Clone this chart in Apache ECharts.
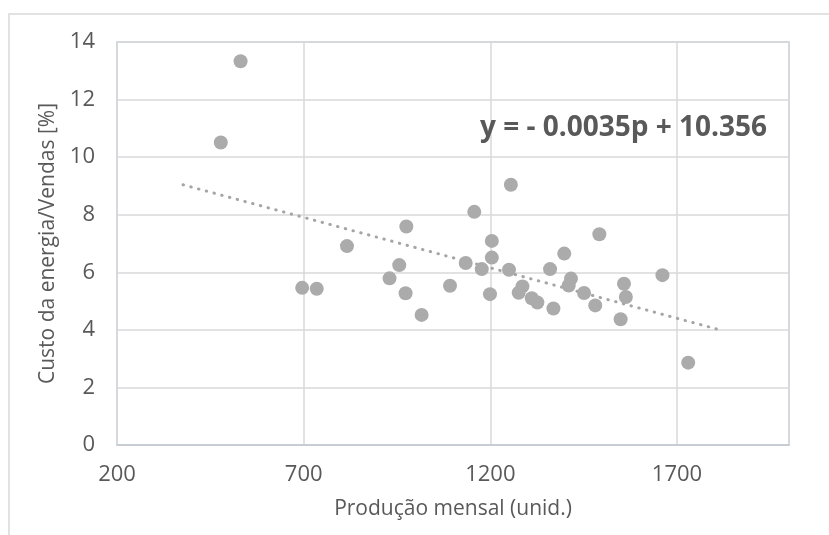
<!DOCTYPE html>
<html>
<head>
<meta charset="utf-8">
<script src="https://cdn.jsdelivr.net/npm/echarts@6/dist/echarts.min.js"></script>
<style>
  html, body { margin: 0; padding: 0; background: #fff; }
  #main { width: 829px; height: 535px; }
</style>
</head>
<body>
<div id="main"></div>
<script>
// produção mensal (unid.) e custo energia/vendas (%)
var producao = [531, 478, 975, 816, 956, 1255, 1157, 1204, 1204, 1134, 1177, 1250,
  1360, 930, 696, 735, 973, 1016, 1092, 1199, 1286, 1276, 1311, 1326, 1369,
  1398, 1492, 1416, 1410, 1451, 1481, 1558, 1563, 1549, 1661, 1730];
var custo = [13.33, 10.51, 7.59, 6.91, 6.25, 9.04, 8.10, 7.09, 6.51, 6.32, 6.11, 6.09,
  6.11, 5.79, 5.46, 5.43, 5.27, 4.52, 5.53, 5.24, 5.51, 5.29, 5.10, 4.95, 4.74,
  6.65, 7.32, 5.78, 5.54, 5.28, 4.85, 5.60, 5.14, 4.37, 5.90, 2.86];

// linha de tendência (extremos)
var trendX = [377, 1812];
var trendY = [9.04, 4.01];
var equacao = 'y = - 0.0035p + 10.356';

var xMin = 200, xMax = 2000, xStep = 500;
var yTicks = [0, 2, 4, 6, 8, 10, 12, 14];

// eixo x deslocado para que os ticks comecem em 200
var pts = producao.map(function (p, i) { return [p - xMin, custo[i]]; });
var trend = trendX.map(function (p, i) { return [p - xMin, trendY[i]]; });

var txt = '#595959';
var font = '"Open Sans", sans-serif';

var chart = echarts.init(document.getElementById('main'));
chart.setOption({
  animation: false,
  grid: {
    left: 117, right: 40, top: 42, bottom: 90,
    show: true, borderColor: '#b8cbe6', borderWidth: 1.5
  },
  xAxis: {
    type: 'value', min: 0, max: xMax - xMin, interval: xStep,
    name: 'Produção mensal (unid.)', nameLocation: 'middle', nameGap: 54,
    nameTextStyle: { color: txt, fontSize: 21, fontFamily: font },
    axisLine: { show: true, lineStyle: { color: '#c3c7d0', width: 1.5 } },
    axisTick: { show: false },
    axisLabel: {
      color: txt, fontSize: 22, fontFamily: font, margin: 19,
      formatter: function (v) { return v >= xMax - xMin ? '' : String(v + xMin); }
    },
    splitLine: { show: true, lineStyle: { color: '#d9d9d9', width: 1.5 } }
  },
  yAxis: {
    type: 'value', min: yTicks[0], max: yTicks[yTicks.length - 1], interval: 2,
    name: 'Custo da energia/Vendas [%]', nameLocation: 'middle', nameGap: 53,
    nameTextStyle: { color: txt, fontSize: 21, fontFamily: font },
    axisLine: { show: false },
    axisTick: { show: false },
    axisLabel: { color: txt, fontSize: 22, fontFamily: font, margin: 22 },
    splitLine: { show: true, lineStyle: { color: '#d9d9d9', width: 1.5 } }
  },
  graphic: [
    {
      type: 'rect', silent: true, z: -1,
      shape: { x: 9, y: 14, width: 900, height: 600 },
      style: { fill: 'none', stroke: '#d9d9d9', lineWidth: 1.5 }
    },
    {
      type: 'text', left: 480, top: 114, z: 10,
      style: { text: equacao, fill: txt, font: 'bold 28px ' + font }
    }
  ],
  series: [
    {
      type: 'line', data: trend, symbol: 'none', z: 1,
      lineStyle: { color: '#a5a5a5', width: 3, type: [0.5, 7.5], cap: 'round' }
    },
    {
      type: 'scatter', data: pts, symbolSize: 14, z: 2,
      itemStyle: { color: '#ababab', opacity: 1 }
    }
  ]
});
</script>
</body>
</html>
